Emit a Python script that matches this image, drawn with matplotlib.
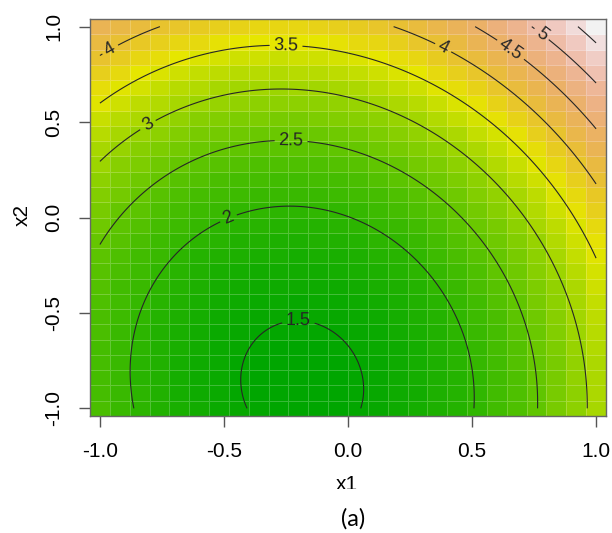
import numpy as np
import matplotlib
matplotlib.use("Agg")
import matplotlib.pyplot as plt
import matplotlib.patches as mpatches
import colorsys
from matplotlib.colors import ListedColormap

# quadratic response surface, coefficients
# order: const, x1, x2, x1^2, x2^2, x1*x2
coef = [1.994, 0.557, 1.179, 1.198, 0.660, 0.131]
x_ticks = [-1.0, -0.5, 0.0, 0.5, 1.0]
tick_labels = ["-1.0", "-0.5", "0.0", "0.5", "1.0"]
levels = [1.5, 2, 2.5, 3, 3.5, 4, 4.5, 5, 5.5]


def surface(a, b):
    return (coef[0] + coef[1]*a + coef[2]*b + coef[3]*a**2
            + coef[4]*b**2 + coef[5]*a*b)


g = np.linspace(-1, 1, 26)          # image cells
X1, X2 = np.meshgrid(g, g)
Z = surface(X1, X2)
gf = np.linspace(-1, 1, 201)        # finer grid for smooth contours
F1, F2 = np.meshgrid(gf, gf)
ZF = surface(F1, F2)


def terrain(n):
    # same as R's terrain.colors
    k = n // 2
    cols = []
    for h, s, v in zip(np.linspace(4/12, 2/12, k), np.linspace(1, 1, k), np.linspace(0.65, 0.9, k)):
        cols.append(colorsys.hsv_to_rgb(h, s, v))
    m = n - k + 1
    for h, s, v in zip(np.linspace(2/12, 0, m)[1:], np.linspace(1, 0, m)[1:], np.linspace(0.9, 0.95, m)[1:]):
        cols.append(colorsys.hsv_to_rgb(h, s, v))
    return ListedColormap(cols)


plt.rcParams["font.family"] = ["Liberation Sans", "DejaVu Sans"]

fig = plt.figure(figsize=(6.12, 5.33), dpi=100)
ax = fig.add_axes([90/612, 1-416/533, 516/612, 397/533])
ax.pcolormesh(g, g, Z, cmap=terrain(100), shading="nearest",
              vmin=Z.min(), vmax=Z.max(),
              edgecolors=(1, 1, 1, 0.22), linewidth=0.4)
cs = ax.contour(F1, F2, ZF, levels=levels, colors="#262626", linewidths=0.8)
label_pos = [(-0.2, -0.55), (-0.48, -0.01), (-0.23, 0.38), (-0.80, 0.47),
             (-0.25, 0.89), (-0.95, 0.86), (0.38, 0.88), (0.645, 0.86), (0.78, 0.96)]
ax.clabel(cs, levels=levels[:-1], manual=label_pos, fmt="%g", fontsize=13,
          inline=True, inline_spacing=4, colors="#262626")

ax.set_xlim(-1.04, 1.04)
ax.set_ylim(-1.04, 1.04)
ax.set_xticks(x_ticks)
ax.set_xticklabels(tick_labels)
ax.set_yticks(x_ticks)
ax.set_yticklabels(tick_labels, rotation=90, va="center")
ax.tick_params(direction="out", length=8, width=1, color="#555555",
               labelsize=15, pad=11)
for sp in ax.spines.values():
    sp.set_color("#666666")
    sp.set_linewidth(1)

fig.text(22/612, 1-215/533, "x2", rotation=90, ha="center", va="center", fontsize=15)
fig.text(347/612, 1-475/533, "x1", ha="center", va="top", fontsize=15, zorder=3)
# the caption strip covers the lower part of the x1 label
strip = mpatches.Rectangle((0, 0), 1, 1-489/533, transform=fig.transFigure,
                           facecolor="white", edgecolor="none", zorder=5)
fig.add_artist(strip)
fig.text(353/612, 1-519/533, "(a)", ha="center", va="center", fontsize=17,
         family=["Lato", "DejaVu Sans"], zorder=6)
fig.savefig("out.png")
